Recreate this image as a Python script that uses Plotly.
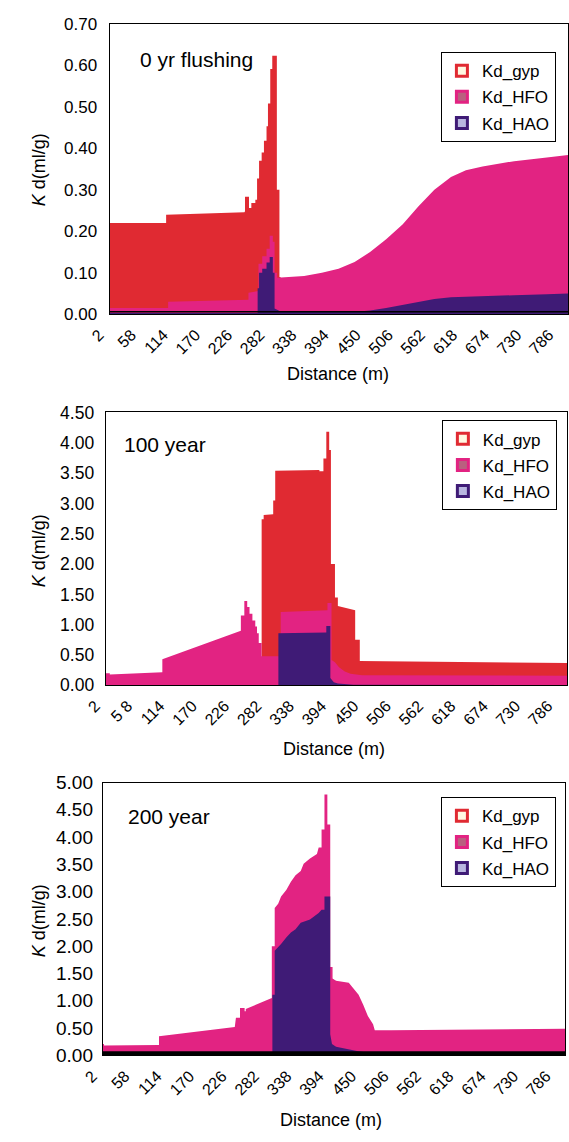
import plotly.graph_objects as go

W, H = 569, 1142
RED = "#E02A32"
PINK = "#E22382"
PURPLE = "#3F1B76"

# ---------------- data (distance in m, Kd in ml/g) ----------------
# Panel 1: 0 yr flushing
gyp1_d = [1, 99.5, 99.5, 236, 237, 237, 244, 244, 248, 248, 255, 255, 258, 258, 261.5, 261.5, 266, 266, 270,
          270, 274.5, 274.5, 277, 277, 281, 281, 284.5, 284.5, 292.5, 292.5, 297, 297, 299, 299, 800]
gyp1_kd = [0.22, 0.22, 0.24, 0.246, 0.248, 0.283, 0.283, 0.256, 0.256, 0.268, 0.268, 0.276, 0.276, 0.327, 0.327,
           0.37, 0.37, 0.39, 0.39, 0.418, 0.418, 0.453, 0.453, 0.508, 0.508, 0.591, 0.591, 0.623, 0.623, 0.30,
           0.30, 0.09, 0.09, 0.0, 0.0]
hfo1_d = [1, 103, 103, 243, 243, 260.5, 260.5, 267, 267, 274.5, 274.5, 280, 280, 285.5, 285.5, 288.5, 288.5,
          293, 293, 320, 340, 371, 400, 428, 455, 483, 512, 539, 567, 596, 622, 651, 706, 763, 800]
hfo1_kd = [0.015, 0.015, 0.03, 0.035, 0.052, 0.056, 0.122, 0.122, 0.14, 0.14, 0.158, 0.158, 0.189, 0.189, 0.175,
           0.175, 0.10, 0.10, 0.088, 0.09, 0.092, 0.10, 0.11, 0.126, 0.15, 0.181, 0.217, 0.26, 0.30, 0.331,
           0.347, 0.356, 0.369, 0.378, 0.384]
hao1_d = [1, 259, 259, 261.5, 261.5, 267, 267, 274.5, 274.5, 280, 280, 285.5, 285.5, 288.5, 288.5, 300, 430,
          455, 483, 512, 539, 567, 596, 651, 706, 763, 800]
hao1_kd = [0.003, 0.003, 0.063, 0.063, 0.10, 0.10, 0.11, 0.11, 0.125, 0.125, 0.138, 0.138, 0.10, 0.10, 0.014,
           0.006, 0.006, 0.009, 0.015, 0.022, 0.03, 0.037, 0.041, 0.044, 0.046, 0.048, 0.05]

# Panel 2: 100 year
gyp2_d = [1, 271, 271, 274.5, 274.5, 291, 291, 294.5, 294.5, 371, 371, 378, 378, 383, 383, 388, 388, 391, 391,
          398, 398, 403, 403, 433, 433, 441, 441, 800]
gyp2_kd = [0.0, 0.0, 2.74, 2.74, 2.81, 2.82, 3.05, 3.05, 3.54, 3.55, 3.53, 3.53, 3.74, 3.74, 4.18, 4.18, 3.88,
           3.88, 2.0, 2.0, 1.45, 1.45, 1.31, 1.24, 0.75, 0.75, 0.40, 0.37]
hfo2_d = [1, 8, 8, 99, 99, 235, 235, 241, 241, 246, 246, 250, 250, 255, 255, 260, 260, 263, 263, 266, 266, 271,
          271, 304, 304, 385, 385, 392, 392, 398, 405, 415, 425, 435, 445, 800]
hfo2_kd = [0.20, 0.20, 0.18, 0.215, 0.43, 0.90, 1.15, 1.15, 1.39, 1.39, 1.29, 1.29, 1.18, 1.18, 1.07, 1.07,
           0.97, 0.97, 0.86, 0.86, 0.70, 0.70, 0.48, 0.48, 1.21, 1.24, 1.36, 1.36, 0.42, 0.38, 0.30, 0.23, 0.19,
           0.175, 0.165, 0.16]
hao2_d = [1, 300, 300, 383, 383, 390, 390, 393, 396, 403, 430, 800]
hao2_kd = [0.005, 0.005, 0.86, 0.87, 0.98, 0.98, 0.12, 0.08, 0.05, 0.03, 0.01, 0.005]

# Panel 3: 200 year
gyp3_d = [1, 800]
gyp3_kd = [0.0, 0.0]
hfo3_d = [1, 3, 3, 98, 98, 229, 231, 238, 238, 246, 246, 248, 248, 293, 293, 298, 298, 304, 309, 318, 326, 334,
          343, 348, 359, 371, 374, 379, 379, 384, 384, 389, 389, 394, 394, 398, 398, 404, 426, 434, 443, 451,
          459, 468, 471, 500, 800]
hfo3_kd = [0.21, 0.21, 0.18, 0.19, 0.35, 0.52, 0.69, 0.69, 0.87, 0.87, 0.81, 0.81, 0.85, 1.05, 2.0, 2.0, 2.7,
           2.78, 2.91, 3.03, 3.18, 3.30, 3.38, 3.51, 3.61, 3.69, 3.81, 3.81, 4.14, 4.14, 4.78, 4.78, 4.23, 4.23,
           1.62, 1.62, 1.41, 1.37, 1.33, 1.23, 1.11, 0.93, 0.72, 0.57, 0.46, 0.46, 0.49]
hao3_d = [1, 294, 294, 298, 298, 309, 318, 326, 334, 343, 359, 374, 379, 384, 384, 394, 394, 397, 404, 420, 440,
          460, 480, 800]
hao3_kd = [0.02, 0.02, 1.11, 1.11, 1.92, 2.04, 2.16, 2.25, 2.31, 2.43, 2.49, 2.61, 2.67, 2.67, 2.91, 2.91, 0.39,
           0.21, 0.16, 0.12, 0.08, 0.05, 0.02, 0.02]

series_names = ["Kd_gyp", "Kd_HFO", "Kd_HAO"]
tick_vals = [2, 58, 114, 170, 226, 282, 338, 394, 450, 506, 562, 618, 674, 730, 786]
tick_text_1 = ["2", "58", "114", "170", "226", "282", "338", "394", "450", "506", "562", "618", "674", "730", "786"]
tick_text_2 = ["2", "5 8", "114", "170", "226", "282", "338", "394", "450", "506", "562", "618", "674", "730", "786"]
tick_text_3 = tick_text_1
panel_labels = ["0 yr flushing", "100 year", "200 year"]
y_max = [0.70, 4.50, 5.00]
y_step = [0.10, 0.50, 0.50]

# ---------------- layout geometry (window pixels) ----------------
FONT = "Liberation Sans, Arial"


def px_x(p):
    return p / W


def px_y(p):
    return 1 - p / H


panels = [
    dict(left=92, right=568, top=14, bottom=310, legend_xy=(436, 43), label_xy=(122, 50), ytitle_y=163,
         xtitle=(329, 371), tick_text=tick_text_1, yfont=17, ystand=8,
         data=[(gyp1_d, gyp1_kd), (hfo1_d, hfo1_kd), (hao1_d, hao1_kd)]),
    dict(left=88, right=567, top=410, bottom=688, legend_xy=(437, 418), label_xy=(105, 443), ytitle_y=551,
         xtitle=(325, 753), tick_text=tick_text_2, yfont=17.5, ystand=7,
         data=[(gyp2_d, gyp2_kd), (hfo2_d, hfo2_kd), (hao2_d, hao2_kd)]),
    dict(left=85, right=565, top=787, bottom=1065, legend_xy=(436, 802), label_xy=(109, 822), ytitle_y=928,
         xtitle=(322, 1131), tick_text=tick_text_3, yfont=19, ystand=5,
         data=[(gyp3_d, gyp3_kd), (hfo3_d, hfo3_kd), (hao3_d, hao3_kd)]),
]

fill_colors = [RED, PINK, PURPLE]
legend_inner = ["#FFF8E2", "#B9607F", "#B9B7E0"]

fig = go.Figure()
annotations = []
shapes = []
layout_axes = {}

for i, p in enumerate(panels):
    n = "" if i == 0 else str(i + 1)
    xa, ya = "x" + n, "y" + n
    leg = "legend" + n
    for k, (d, kd) in enumerate(p["data"]):
        fig.add_trace(go.Scatter(
            x=d, y=kd, xaxis=xa, yaxis=ya, mode="lines", fill="tozeroy",
            line=dict(width=0, color=fill_colors[k]), fillcolor=fill_colors[k],
            showlegend=False, hoverinfo="skip"))
    for k in range(3):
        fig.add_trace(go.Scatter(
            x=[None], y=[None], xaxis=xa, yaxis=ya, mode="markers", name=series_names[k],
            marker=dict(symbol="square", size=11, color=legend_inner[k],
                        line=dict(color=fill_colors[k], width=3)),
            legend=leg, legendgroup=f"{leg}_{k}", showlegend=True))

    yticks = [round(j * y_step[i], 2) for j in range(int(round(y_max[i] / y_step[i])) + 1)]
    layout_axes["xaxis" + n] = dict(
        domain=[px_x(p["left"]), px_x(p["right"])], anchor=ya, range=[1, 800],
        tickmode="array", tickvals=tick_vals, ticktext=p["tick_text"], tickangle=-45,
        tickfont=dict(size=16, color="black", family=FONT),
        showgrid=False, zeroline=False, showline=True, linecolor="black", linewidth=1.2, mirror=True,
        ticks="", ticklabelstandoff=4, ticklabelshift=-11)
    layout_axes["yaxis" + n] = dict(
        domain=[px_y(p["bottom"]), px_y(p["top"])], anchor=xa, range=[0, y_max[i]],
        tickmode="array", tickvals=yticks, tickformat=".2f",
        tickfont=dict(size=p["yfont"], color="black", family=FONT),
        showgrid=False, zeroline=False, showline=True, linecolor="black", linewidth=1.2, mirror=True,
        ticks="", ticklabelstandoff=p["ystand"])
    layout_axes[leg] = dict(
        x=px_x(p["legend_xy"][0]), y=px_y(p["legend_xy"][1]), xanchor="left", yanchor="top",
        bgcolor="white", bordercolor="black", borderwidth=1, tracegroupgap=1, itemwidth=30,
        font=dict(size=17, color="black", family=FONT))

    annotations.append(dict(text=panel_labels[i], xref="paper", yref="paper",
                            x=px_x(p["label_xy"][0]), y=px_y(p["label_xy"][1]),
                            xanchor="left", yanchor="middle", showarrow=False,
                            font=dict(size=21, color="black", family=FONT)))
    annotations.append(dict(text="<i>K</i> d(ml/g)", xref="paper", yref="paper",
                            x=px_x(19), y=px_y(p["ytitle_y"]), xanchor="center", yanchor="middle",
                            textangle=-90, showarrow=False,
                            font=dict(size=18, color="black", family=FONT)))
    annotations.append(dict(text="Distance (m)", xref="paper", yref="paper",
                            x=px_x(p["xtitle"][0]), y=px_y(p["xtitle"][1]), xanchor="center",
                            yanchor="middle", showarrow=False,
                            font=dict(size=18, color="black", family=FONT)))

# baseline bands drawn over the areas (as in the original figure)
shapes.append(dict(type="line", xref="x domain", yref="y", x0=0, x1=1, y0=0.006, y1=0.006,
                   line=dict(color="black", width=1.5), layer="above"))
shapes.append(dict(type="rect", xref="x3 domain", yref="y3", x0=0, x1=1, y0=0.0, y1=0.075,
                   fillcolor="black", line=dict(width=0), layer="above"))

fig.update_layout(
    width=W, height=H, margin=dict(l=0, r=0, t=0, b=0),
    paper_bgcolor="white", plot_bgcolor="white",
    font=dict(family=FONT, color="black"),
    annotations=annotations, shapes=shapes, **layout_axes)

fig.write_html("out.html", config={"displayModeBar": False},
               post_script="document.body.style.margin='0';document.body.style.overflow='hidden';")
